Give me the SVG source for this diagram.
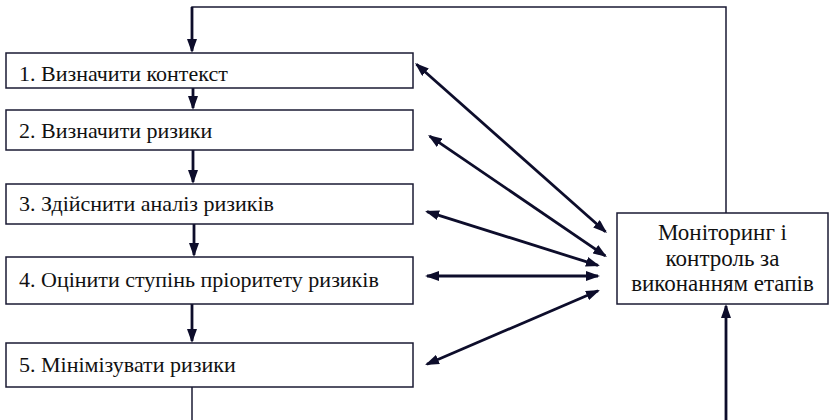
<svg xmlns="http://www.w3.org/2000/svg" width="829" height="420" viewBox="0 0 829 420">
<defs>
<style>
.box{fill:#fff;stroke:#1a1a33;stroke-width:1.5}
.t{font-family:"Liberation Serif","Times New Roman",serif;font-size:22px;fill:#111}
.m{font-size:23px}
.thick{stroke:#0d0d2b;stroke-width:2.8;fill:none}
.thin{stroke:#1a1a33;stroke-width:1.5;fill:none}
</style>
<marker id="ah" viewBox="0 0 14 10" markerWidth="14" markerHeight="10" refX="12" refY="5" orient="auto-start-reverse" markerUnits="userSpaceOnUse">
<path d="M0,0 L14,5 L0,10 z" fill="#0d0d2b"/>
</marker>
</defs>
<rect width="829" height="420" fill="#fff"/>
<g id="connectors">
<path class="thin" d="M726,213 V7 H192 V40"/>
<line class="thick" x1="192" y1="7" x2="192" y2="51" marker-end="url(#ah)"/>
<line class="thick" x1="193" y1="88" x2="193" y2="108" marker-end="url(#ah)"/>
<line class="thick" x1="193" y1="150" x2="193" y2="182" marker-end="url(#ah)"/>
<line class="thick" x1="194" y1="224" x2="194" y2="255" marker-end="url(#ah)"/>
<line class="thick" x1="192" y1="304" x2="192" y2="341" marker-end="url(#ah)"/>
<line class="thin" x1="192" y1="387" x2="192" y2="420"/>
<line class="thick" x1="726" y1="420" x2="726" y2="306" marker-end="url(#ah)"/>
<line class="thick" x1="416.5" y1="64.3" x2="605.5" y2="231.7" marker-start="url(#ah)" marker-end="url(#ah)"/>
<line class="thick" x1="429.7" y1="136.1" x2="605.3" y2="255.9" marker-start="url(#ah)" marker-end="url(#ah)"/>
<line class="thick" x1="427" y1="211.6" x2="598" y2="265.4" marker-start="url(#ah)" marker-end="url(#ah)"/>
<line class="thick" x1="427" y1="276" x2="598" y2="276" marker-start="url(#ah)" marker-end="url(#ah)"/>
<line class="thick" x1="426.9" y1="364.2" x2="598.1" y2="290.8" marker-start="url(#ah)" marker-end="url(#ah)"/>
</g>
<g id="n1"><rect class="box" x="6" y="53" width="407" height="35"/><text class="t" x="19" y="81">1. Визначити контекст</text></g>
<g id="n2"><rect class="box" x="6" y="110" width="407" height="40"/><text class="t" x="19" y="138">2. Визначити ризики</text></g>
<g id="n3"><rect class="box" x="6" y="184" width="407" height="40"/><text class="t" x="19" y="211">3. Здійснити аналіз ризиків</text></g>
<g id="n4"><rect class="box" x="6" y="257" width="407" height="47"/><text class="t" x="19" y="287">4. Оцінити ступінь пріоритету ризиків</text></g>
<g id="n5"><rect class="box" x="6" y="343" width="407" height="44"/><text class="t" x="19" y="372">5. Мінімізувати ризики</text></g>
<g id="n6"><rect class="box" x="617" y="213" width="211" height="91"/>
<text class="t m" text-anchor="middle" x="722.5" y="240">Моніторинг і</text>
<text class="t m" text-anchor="middle" x="722.5" y="266">контроль за</text>
<text class="t m" text-anchor="middle" x="722.5" y="291">виконанням етапів</text></g>
</svg>
